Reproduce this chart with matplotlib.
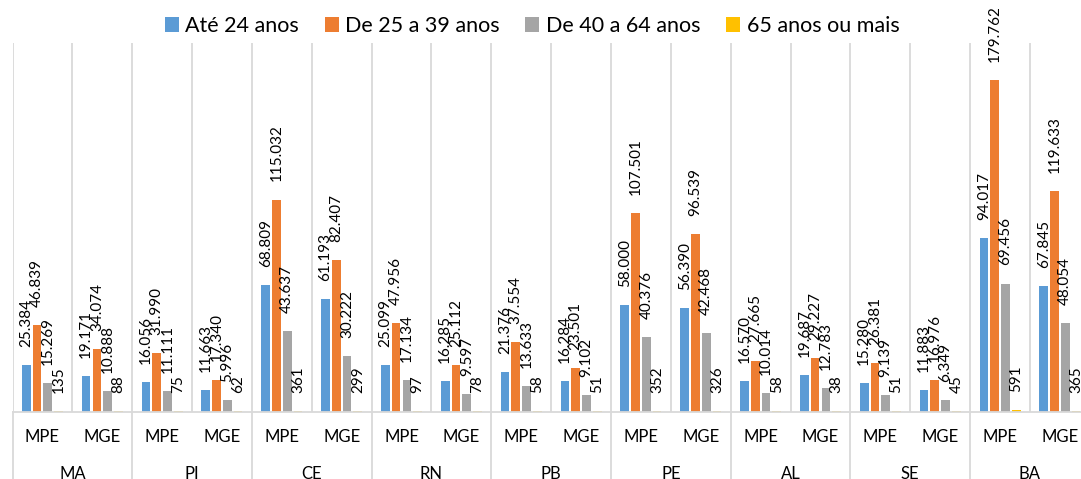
import matplotlib.pyplot as plt
import matplotlib.transforms as mtransforms
import numpy as np

plt.rcParams['font.family'] = ['Lato', 'DejaVu Sans']

states = ['MA', 'PI', 'CE', 'RN', 'PB', 'PE', 'AL', 'SE', 'BA']
kinds = ['MPE', 'MGE']
series = ['Até 24 anos', 'De 25 a 39 anos', 'De 40 a 64 anos', '65 anos ou mais']
colors = ['#5B9BD5', '#ED7D31', '#A5A5A5', '#FFC000']

# MPE, MGE per state, in state order
ate24 = [25384, 19171, 16056, 11663, 68809, 61193, 25099, 16285, 21376, 16284,
         58000, 56390, 16570, 19687, 15280, 11883, 94017, 67845]
de25_39 = [46839, 34074, 31990, 17340, 115032, 82407, 47956, 25112, 37554, 23501,
           107501, 96539, 27665, 29227, 26381, 16976, 179762, 119633]
de40_64 = [15269, 10888, 11111, 5996, 43637, 30222, 17134, 9597, 13633, 9102,
           40376, 42468, 10014, 12783, 9139, 6349, 69456, 48054]
mais65 = [135, 88, 75, 62, 361, 299, 97, 78, 58, 51,
          352, 326, 58, 38, 51, 45, 591, 365]
data = [ate24, de25_39, de40_64, mais65]

W, H = 1081, 479
fig = plt.figure(figsize=(W / 100, H / 100), dpi=100)
left, base, top, cat_w = 12.5, 411.5, 43, 59.85
n = len(states) * len(kinds)
ax = fig.add_axes([left / W, (H - base) / H, n * cat_w / W, (base - top) / H])

x = np.arange(n) + 0.5
pitch, bw = 0.18, 0.145
grid_c = '#D9D9D9'

ax.vlines(np.arange(n + 1), 0, 200000, color=grid_c, lw=1.3, zorder=0)

for i, (vals, c, name) in enumerate(zip(data, colors, series)):
    xs = x + (i - 1.5) * pitch
    ax.bar(xs, vals, width=bw, color=c, label=name, zorder=2)
    for xi, v in zip(xs, vals):
        ax.annotate(f'{v:,}'.replace(',', '.'), (xi, v), xytext=(0, 13),
                    textcoords='offset points', rotation=90, ha='center',
                    va='bottom', fontsize=11, color='#000000')

ax.set_xlim(0, n)
ax.set_ylim(0, 200000)
for s in ['left', 'right', 'top']:
    ax.spines[s].set_visible(False)
ax.spines['bottom'].set_color(grid_c)
ax.spines['bottom'].set_linewidth(1.3)
ax.set_xticks([])
ax.set_yticks([])

trans = mtransforms.blended_transform_factory(ax.transData, ax.transAxes)
ax_h = base - top
for b in np.arange(0, n + 1, 2):
    ax.plot([b, b], [0, -(H - base) / ax_h], transform=trans, color=grid_c,
            lw=1.3, clip_on=False)

for i in range(n):
    ax.text(x[i], -(437 - base) / ax_h, kinds[i % 2], transform=trans,
            ha='center', va='center', fontsize=12)
for j, st in enumerate(states):
    ax.text(2 * j + 1, -(474 - base) / ax_h, st, transform=trans,
            ha='center', va='center', fontsize=12)

fig.legend(loc='center', bbox_to_anchor=(532 / W, 1 - 26 / H), ncol=4,
           frameon=False, fontsize=15.5, handlelength=0.65, handleheight=0.65,
           handletextpad=0.3, columnspacing=1.2)

fig.savefig('out.png', dpi=100)
